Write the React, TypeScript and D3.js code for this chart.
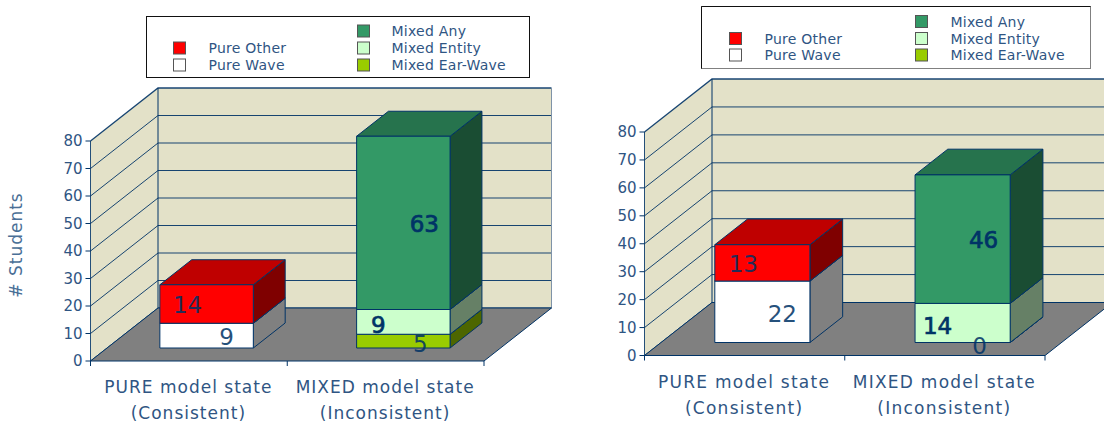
import React from "react";
import * as d3 from "d3";

// Series, listed from the bottom of each stack upwards
const seriesNames = ["Pure Wave", "Pure Other", "Mixed Ear-Wave", "Mixed Entity", "Mixed Any"];
const categories = ["PURE model state", "MIXED model state"];
const categoryNotes = ["(Consistent)", "(Inconsistent)"];
const yTicks = [0, 10, 20, 30, 40, 50, 60, 70, 80];

// Values per series: [PURE, MIXED]; null means the series is not part of that stack
const consistentValues = [[9, null], [14, null], [null, 5], [null, 9], [null, 63]];
const inconsistentValues = [[22, null], [13, null], [null, 0], [null, 14], [null, 46]];

const seriesColors = ["#ffffff", "#ff0000", "#99cc00", "#ccffcc", "#339966"];
const sideColors = ["#808080", "#7f0000", "#4d6600", "#668066", "#1a4d33"];
const topColors = ["#bfbfbf", "#bf0000", "#739900", "#99bf99", "#26734d"];

const INK = "#003366";
const TEXT = "#2f5583";
const WALL = "#e3e1c8";
const FLOOR = "#808080";
const FONT = "'DejaVu Sans', Verdana, sans-serif";

// Value labels sit off the segment centre, and some are heavier than others
const labelShift: Record<string, [number, number]> = {
  "Pure Wave": [20, 1.5],
  "Pure Other": [-19, 1],
  "Mixed Ear-Wave": [17, 3],
  "Mixed Entity": [-25, 2.5],
  "Mixed Any": [21, 0.5],
};
const heavyLabels = new Set(["Mixed Entity", "Mixed Any"]);

// Legend rows: [series index, column, row]
const legendLayout = [[1, 0, 1], [0, 0, 2], [4, 1, 0], [3, 1, 1], [2, 1, 2]];

type PanelProps = {
  values: (number | null)[][];
  x0: number; x1: number; y0: number; y80: number;
  depthFar: number;
  spacing: number;
  legend: { x: number; y: number; w: number; h: number; sw: number[]; tx: number[]; rows: number[]; shadow: boolean };
};

function Panel({ values, x0, x1, y0, y80, depthFar, spacing, legend }: PanelProps) {
  const depthX = 67.5;
  const depthY = -53;
  const x = d3.scaleLinear().domain([0, 2]).range([x0, x1]);
  const y = d3.scaleLinear().domain([0, 80]).range([y0, y80]);
  const dx = d3.scaleLinear().domain([0, 1]).range([0, depthX]);
  const dy = d3.scaleLinear().domain([0, 1]).range([0, depthY]);
  // Projects (category position, value, depth) onto the oblique picture plane
  const pt = (c: number, v: number, d: number): [number, number] => [x(c) + dx(d), y(v) + dy(d)];
  const poly = (pts: [number, number][]) => d3.line()(pts) + "Z";

  const rows = categories.map((_, c) => {
    const row: Record<string, number> = {};
    seriesNames.forEach((s, i) => { row[s] = values[i][c] ?? 0; });
    return row;
  });
  const stacked = d3.stack<Record<string, number>>().keys(seriesNames)(rows);

  const band = d3.scaleBand<number>().domain([0, 1]).range([0.006, 2.006]).paddingInner(0.525).paddingOuter(0.2625);
  const depthNear = 0.245;

  return (
    <g fontFamily={FONT}>
      <path d={poly([pt(0, 80, 1), pt(2, 80, 1), pt(2, 0, 1), pt(0, 0, 1)])} fill={WALL} />
      <path d={poly([pt(0, 0, 0), pt(0, 80, 0), pt(0, 80, 1), pt(0, 0, 1)])} fill={WALL} />
      {yTicks.map((t) => (
        <path key={t} d={d3.line()([pt(0, t, 0), pt(0, t, 1), pt(2, t, 1)])!} fill="none" stroke={INK} strokeWidth={t === 80 ? 1.3 : 1} opacity={0.9} />
      ))}
      <path d={d3.line()([pt(0, 0, 1), pt(0, 80, 1)])!} stroke={INK} fill="none" />
      <path d={d3.line()([pt(2, 0, 1), pt(2, 80, 1)])!} stroke="#7f93a8" fill="none" />
      <path d={poly([pt(0, 0, 0), pt(2, 0, 0), pt(2, 0, 1), pt(0, 0, 1)])} fill={FLOOR} stroke={INK} strokeWidth={1} />

      {/* Value axis */}
      <path d={d3.line()([pt(0, 0, 0), pt(0, 80, 0)])!} stroke={INK} fill="none" opacity={0.85} />
      {yTicks.map((t) => (
        <g key={t}>
          <line x1={x0 - 5} x2={x0} y1={y(t)} y2={y(t)} stroke={INK} />
          <text x={x0 - 8} y={y(t)} dy="0.36em" textAnchor="end" fontSize={15} fill={TEXT}>{t}</text>
        </g>
      ))}
      {/* Category axis */}
      {[0, 1, 2].map((c) => (
        <line key={c} x1={x(c)} x2={x(c)} y1={y0} y2={y0 + 5} stroke={INK} />
      ))}
      {categories.map((name, c) => (
        <g key={name} textAnchor="middle" fontSize={17} letterSpacing={spacing} fill={TEXT}>
          <text x={x(c + 0.5) - 0.5} y={y0 + 32}>{name}</text>
          <text x={x(c + 0.5) - 0.5} y={y0 + 58}>{categoryNotes[c]}</text>
        </g>
      ))}

      {/* Stacked boxes, one segment at a time from the bottom up */}
      {categories.map((_, c) => {
        const left = band(c)!;
        const right = left + band.bandwidth();
        return stacked.map((layer, i) => {
          if (values[i][c] === null) return null;
          const [lo, hi] = layer[c];
          return (
            <g key={`${c}-${i}`} stroke={INK} strokeWidth={1} strokeLinejoin="round">
              <path fill={sideColors[i]} d={poly([pt(right, lo, depthNear), pt(right, lo, depthFar), pt(right, hi, depthFar), pt(right, hi, depthNear)])} />
              <path fill={topColors[i]} d={poly([pt(left, hi, depthNear), pt(right, hi, depthNear), pt(right, hi, depthFar), pt(left, hi, depthFar)])} />
              <path fill={seriesColors[i]} d={poly([pt(left, lo, depthNear), pt(right, lo, depthNear), pt(right, hi, depthNear), pt(left, hi, depthNear)])} />
            </g>
          );
        });
      })}
      {categories.map((_, c) =>
        stacked.map((layer, i) => {
          const v = values[i][c];
          if (v === null) return null;
          const [lo, hi] = layer[c];
          const [cx, cy] = pt(band(c)! + band.bandwidth() / 2, (lo + hi) / 2, depthNear);
          const [sx, sy] = labelShift[seriesNames[i]];
          const heavy = heavyLabels.has(seriesNames[i]) && v !== 0;
          return (
            <text key={`v${c}-${i}`} x={cx + sx} y={cy + sy} dy="0.36em" textAnchor="middle" fontSize={23}
              fill={INK} stroke={heavy ? INK : "none"} strokeWidth={heavy ? 0.7 : 0} opacity={heavy ? 1 : 0.85}>{v}</text>
          );
        })
      )}

      {/* Legend */}
      <rect x={legend.x} y={legend.y} width={legend.w} height={legend.h} fill="#fff" stroke={legend.shadow ? "#808080" : "#111"} strokeWidth={1} />
      {legend.shadow && <path d={`M${legend.x},${legend.y + legend.h}V${legend.y}H${legend.x + legend.w}`} fill="none" stroke="#111" />}
      {legendLayout.map(([s, col, row]) => (
        <g key={s}>
          <rect x={legend.sw[col]} y={legend.rows[row] - 6} width={12} height={12} fill={seriesColors[s]} stroke="#555" strokeWidth={1} />
          <text x={legend.tx[col]} y={legend.rows[row]} dy="0.36em" fontSize={14} letterSpacing={0.25} fill={TEXT}>{seriesNames[s]}</text>
        </g>
      ))}
    </g>
  );
}

export default function App() {
  return (
    <svg width={1104} height={424} style={{ position: "absolute", left: 0, top: 0, background: "#fff" }}>
      <Panel values={consistentValues} x0={90.5} x1={484} y0={361} y80={141} depthFar={0.717} spacing={1}
        legend={{ x: 146.5, y: 16.5, w: 383, h: 61, sw: [173.5, 357.5], tx: [208.5, 391.5], rows: [31, 48, 65], shadow: false }} />
      <Panel values={inconsistentValues} x0={644.5} x1={1045} y0={355.5} y80={132} depthFar={0.73} spacing={1.25}
        legend={{ x: 701.5, y: 6.5, w: 389, h: 62, sw: [729.5, 915.5], tx: [764.5, 950.5], rows: [21.5, 38.5, 55], shadow: true }} />
      <text transform="translate(22,245) rotate(-90)" textAnchor="middle" fontFamily={FONT} fontSize={17} letterSpacing={1} fill="#4a6f96">
        # Students
      </text>
    </svg>
  );
}
